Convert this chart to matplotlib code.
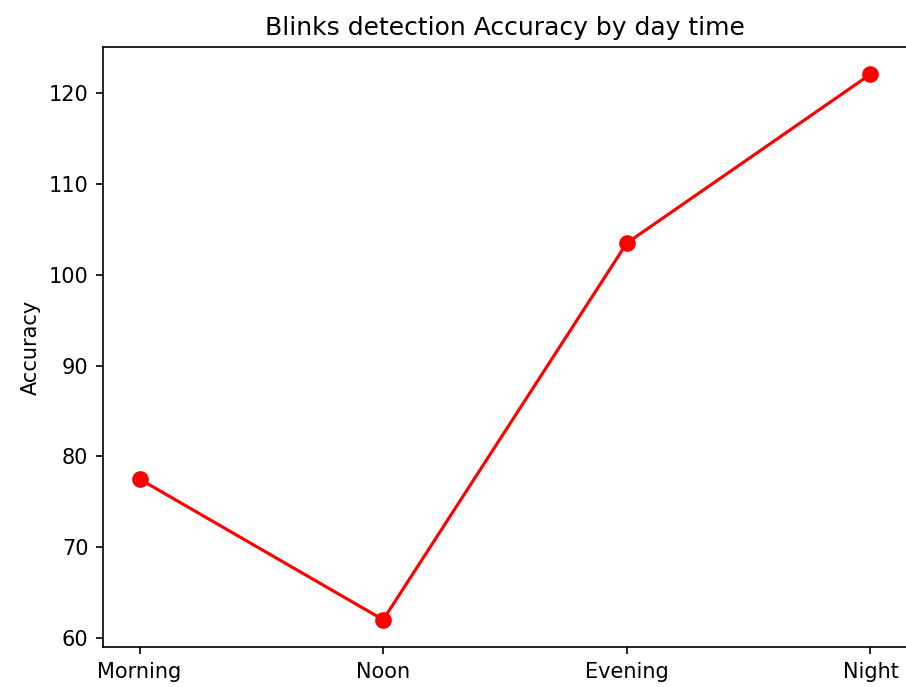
import matplotlib
matplotlib.use('Agg')
import matplotlib.pyplot as plt

times = ['Morning', 'Noon', 'Evening', 'Night']
accuracy = [77.5, 62.0, 103.5, 122.1]

fig = plt.figure(figsize=(906 / 150, 687 / 150), dpi=150)
# right spine lands on the last pixel column, as in the cropped original
ax = fig.add_axes([103 / 906, 40 / 687, 804 / 906, 600 / 687])

ax.plot(times, accuracy, color='red', marker='o', markersize=7)
ax.set_ylabel('Accuracy')
ax.set_title('Blinks detection Accuracy by day time')

fig.savefig('out.png', dpi=150)
